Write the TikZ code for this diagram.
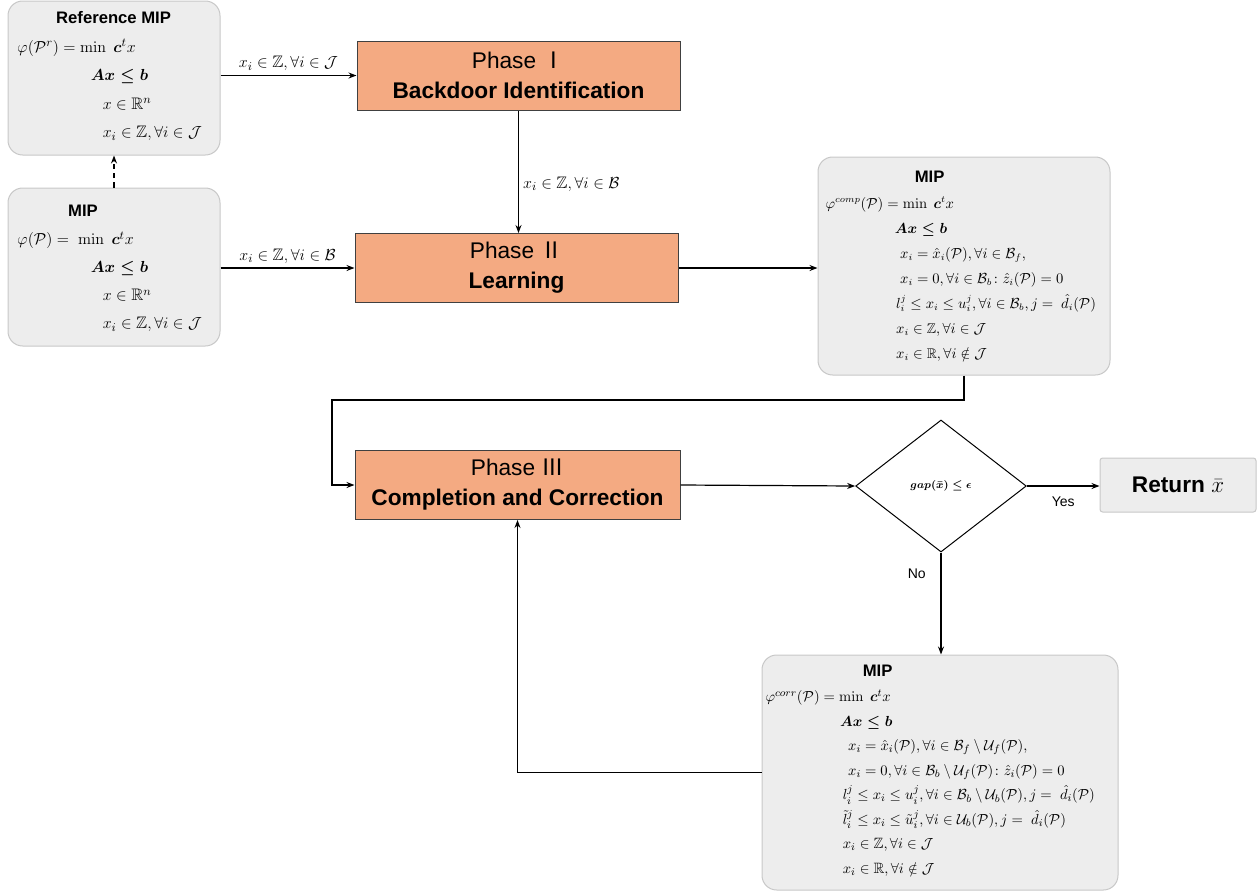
\documentclass[tikz,border=0pt]{standalone}
\usepackage{amsmath,amssymb}
\usepackage[no-math]{fontspec}
\setmainfont{Liberation Sans}
\newfontfamily\cjk{Noto Sans CJK SC}
\usetikzlibrary{arrows.meta,fit,shapes.geometric,positioning}

\definecolor{phasefill}{RGB}{244,170,130}
\definecolor{phaseline}{RGB}{64,64,64}
\definecolor{mipfill}{RGB}{237,237,237}
\definecolor{mipline}{RGB}{200,200,200}

\tikzset{every picture/.style={line width=0.75pt}}
\tikzset{
  phasebox/.style={draw=phaseline, fill=phasefill, inner sep=0pt, align=center,
    minimum width=242.25pt, minimum height=51.75pt,
    font=\fontsize{17}{22.5}\selectfont},
  mipbox/.style={draw=mipline, fill=mipfill, rounded corners=11pt, inner sep=0pt},
  miptext/.style={anchor=north west, inner sep=0pt, align=left},
  flow/.style={-{Stealth[length=6pt,width=4.5pt]}, line width=0.9pt},
  flowlabel/.style={font=\fontsize{12.5}{14}\selectfont, inner sep=3pt},
  answer/.style={font=\fontsize{10.5}{12}\selectfont, inner sep=2pt},
}
\newcommand{\miptitle}[1]{{\fontsize{12.5}{14}\selectfont\bfseries #1}}
\newcommand{\phasenum}[1]{{\cjk\smash{#1}}}

\begin{document}
\begin{tikzpicture}[x=0.75pt,y=0.75pt,yscale=-1,xscale=1]
\useasboundingbox (0,0) rectangle (1258,894);

%Shape: Reference MIP [id:ref]
\node[mipbox, fit={(8,1) (220,155)}] (ref) {};
% Text Node
\node[miptext, font=\fontsize{12.5}{21.4}\selectfont] (reftext) at (17,11) {%
  \hspace*{29pt}\miptitle{Reference MIP}\\
  $\varphi(\mathcal{P}^r) = \min\ \boldsymbol{c}^t x$\\
  \hspace*{55pt}$\boldsymbol{Ax \leq b}$\\
  \hspace*{64pt}$x \in \mathbb{R}^n$\\
  \hspace*{64pt}$x_i \in \mathbb{Z}, \forall i \in \mathcal{J}$};

%Shape: MIP [id:mip]
\node[mipbox, fit={(8,188) (220,346)}] (mip) {};
% Text Node
\node[miptext, font=\fontsize{12.5}{21}\selectfont] (miptxt) at (17,205) {%
  \hspace*{38pt}\miptitle{MIP}\\
  $\varphi(\mathcal{P}) =\ \min\ \boldsymbol{c}^t x$\\
  \hspace*{55pt}$\boldsymbol{Ax \leq b}$\\
  \hspace*{64pt}$x \in \mathbb{R}^n$\\
  \hspace*{64pt}$x_i \in \mathbb{Z}, \forall i \in \mathcal{J}$};

%Shape: Phase boxes [id:p1] [id:p2] [id:p3]
\node[phasebox] (p1) at (518.5,75.5) {Phase \phasenum{Ⅰ}\\\textbf{Backdoor Identification}};
\node[phasebox] (p2) at (516.5,268) {Phase \phasenum{Ⅱ}\\\textbf{Learning}};
\node[phasebox, minimum width=243.75pt] (p3) at (517.5,485) {Phase \phasenum{Ⅲ}\\\textbf{Completion and Correction}};

%Shape: Completion MIP [id:comp]
\node[mipbox, fit={(818,157) (1110,375)}] (comp) {};
% Text Node
\node[miptext, font=\fontsize{10.5}{18.8}\selectfont] (comptext) at (825,171) {%
  \hspace*{67pt}\miptitle{MIP}\\
  $\varphi^{comp}(\mathcal{P}) = \min\ \boldsymbol{c}^t x$\\
  \hspace*{52pt}$\boldsymbol{Ax \leq b}$\\
  \hspace*{56pt}$x_i = \hat{x}_i(\mathcal{P}), \forall i \in \mathcal{B}_f,$\\
  \hspace*{56pt}$x_i = 0, \forall i \in \mathcal{B}_b\colon \hat{z}_i(\mathcal{P}) = 0$\\
  \hspace*{53pt}$l_i^j \leq x_i \leq u_i^j, \forall i \in \mathcal{B}_b, j =\ \hat{d}_i(\mathcal{P})$\\
  \hspace*{53pt}$x_i \in \mathbb{Z}, \forall i \in \mathcal{J}$\\
  \hspace*{53pt}$x_i \in \mathbb{R}, \forall i \notin \mathcal{J}$};

%Shape: Diamond [id:gap]
\node[diamond, draw, fill=white, inner sep=0pt, minimum width=128pt, minimum height=99pt,
  font=\fontsize{8.5}{10}\selectfont] (gap) at (941,486) {$\boldsymbol{gap(\bar{x}) \leq \epsilon}$};

%Shape: Return [id:ret]
\node[draw=mipline, fill=mipfill, rounded corners=2pt, inner sep=0pt,
  minimum width=117pt, minimum height=40.5pt,
  font=\fontsize{17}{20}\selectfont\bfseries] (ret) at (1178,485) {Return $\bar{x}$};

%Shape: Correction MIP [id:corr]
\node[mipbox, fit={(762,655) (1118,890)}] (corr) {};
% Text Node
\node[miptext, font=\fontsize{11.2}{18.4}\selectfont] (corrtext) at (765,665) {%
  \hspace*{73pt}\miptitle{MIP}\\
  $\varphi^{corr}(\mathcal{P}) = \min\ \boldsymbol{c}^t x$\\
  \hspace*{56pt}$\boldsymbol{Ax \leq b}$\\
  \hspace*{62pt}$x_i = \hat{x}_i(\mathcal{P}), \forall i \in \mathcal{B}_f \setminus \mathcal{U}_f(\mathcal{P}),$\\
  \hspace*{62pt}$x_i = 0, \forall i \in \mathcal{B}_b \setminus \mathcal{U}_f(\mathcal{P})\colon \hat{z}_i(\mathcal{P}) = 0$\\
  \hspace*{58pt}$l_i^j \leq x_i \leq u_i^j, \forall i \in \mathcal{B}_b \setminus \mathcal{U}_b(\mathcal{P}), j =\ \hat{d}_i(\mathcal{P})$\\
  \hspace*{58pt}$\tilde{l}_i^j \leq x_i \leq \tilde{u}_i^j, \forall i \in \mathcal{U}_b(\mathcal{P}), j =\ \hat{d}_i(\mathcal{P})$\\
  \hspace*{58pt}$x_i \in \mathbb{Z}, \forall i \in \mathcal{J}$\\
  \hspace*{58pt}$x_i \in \mathbb{R}, \forall i \notin \mathcal{J}$};

%Straight Lines
\draw[flow, dash pattern={on 4pt off 3pt}] (mip.north) -- (ref.south);
\draw[flow] (p1.west -| ref.east) -- (p1.west)
  node[flowlabel, midway, above] (lab1) {$x_i \in \mathbb{Z}, \forall i \in \mathcal{J}$};
\draw[flow] (p2.west -| mip.east) -- (p2.west)
  node[flowlabel, midway, above] (lab2) {$x_i \in \mathbb{Z}, \forall i \in \mathcal{B}$};
\draw[flow] (p1.south) -- (p1.south |- p2.north)
  node[flowlabel, pos=0.6, right] (lab3) {$x_i \in \mathbb{Z}, \forall i \in \mathcal{B}$};
\draw[flow] (p2.east) -- (p2.east -| comp.west);
\coordinate (loopL) at (332,400);
\draw[flow] (comp.south) |- (loopL) |- (p3.west);
\draw[flow] (p3.east) -- (gap.west);
\draw[flow] (gap.east) -- (gap.east -| ret.west)
  node[answer, midway, below=6pt] (yes) {Yes};
\draw[flow] (gap.south) -- (gap.south |- corr.north)
  node[answer, pos=0.21, left=9pt] (no) {No};
\draw[flow] (corr.west) -| (p3.south);

\end{tikzpicture}
\end{document}
